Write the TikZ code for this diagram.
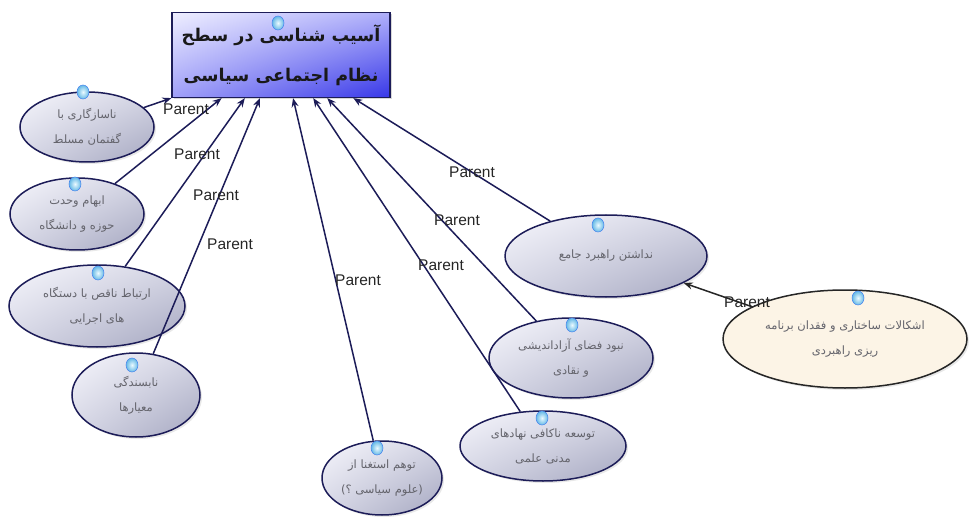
\documentclass[tikz,border=0pt]{standalone}
\usepackage{fontspec}
\setmainfont{Liberation Sans}
\newfontfamily\fa[Script=Arabic]{DejaVu Sans}
\TeXXeTstate=1
\usetikzlibrary{shapes.geometric,arrows.meta,shadows,shadings,calc}
\definecolor{navy}{RGB}{28,28,88}
\definecolor{etext}{RGB}{100,100,108}
\definecolor{elite}{RGB}{246,246,252}
\definecolor{emid}{RGB}{212,213,228}
\definecolor{edark}{RGB}{165,167,192}
\definecolor{beige}{RGB}{252,244,230}
\definecolor{markin}{RGB}{235,250,255}
\definecolor{markout}{RGB}{100,185,230}
\newcommand{\rl}[1]{\beginR #1\endR}
\tikzset{
  concept/.style={ellipse, draw=navy, line width=1.5pt, inner sep=0pt,
    upper left=elite, upper right=emid, lower left=emid, lower right=edark,
    drop shadow={opacity=0.18, shadow xshift=2pt, shadow yshift=-2pt},
    font=\fa\fontsize{11.5}{25}\selectfont, text=etext, align=center},
  beigeconcept/.style={ellipse, draw=black!85, line width=1.5pt, inner sep=0pt,
    fill=beige, drop shadow={opacity=0.18, shadow xshift=2pt, shadow yshift=-2pt},
    font=\fa\fontsize{11.5}{25}\selectfont, text=etext, align=center},
  rootbox/.style={rectangle, draw=navy, line width=1.2pt, inner sep=0pt,
    upper left={rgb,255:red,238;green,238;blue,255},
    upper right={rgb,255:red,175;green,175;blue,250},
    lower left={rgb,255:red,160;green,160;blue,248},
    lower right={rgb,255:red,55;green,55;blue,232},
    drop shadow={opacity=0.3, shadow xshift=2pt, shadow yshift=-2pt},
    font=\fa\bfseries\fontsize{17.5}{40}\selectfont, text=black!90, align=center},
  marker/.style={ellipse, minimum width=12pt, minimum height=14pt, inner sep=0pt,
    inner color=markin, outer color=markout, draw=markout!70!blue, line width=0.5pt},
  edge/.style={draw=navy, line width=1.5pt, -{Stealth[length=9pt,width=7pt]}},
  lbl/.style={font=\fontsize{15.5}{15.5}\selectfont, text=black!85, inner sep=0pt}
}
\begin{document}
\begin{tikzpicture}[x=1pt,y=-1pt]
\useasboundingbox (0,0) rectangle (974,521);
\fill[white] (0,0) rectangle (974,521);

\node[rootbox, minimum width=218pt, minimum height=85pt] (root) at (281,55)
  {\rl{آسیب شناسی در سطح}\\\rl{نظام اجتماعی سیاسی}};

\node[concept, minimum width=134pt, minimum height=70pt] (e1) at (87,127)
  {\rl{ناسازگاری با}\\\rl{گفتمان مسلط}};
\node[concept, minimum width=134pt, minimum height=72pt] (e2) at (77,214)
  {\rl{ابهام وحدت}\\\rl{حوزه و دانشگاه}};
\node[concept, minimum width=176pt, minimum height=82pt] (e3) at (97,306)
  {\rl{ارتباط ناقص با دستگاه}\\\rl{های اجرایی}};
\node[concept, minimum width=128pt, minimum height=84pt] (e4) at (136,395)
  {\rl{نابسندگی}\\\rl{معیارها}};
\node[concept, minimum width=120pt, minimum height=74pt] (e5) at (382,478)
  {\rl{توهم استغنا از}\\\rl{(علوم سیاسی ؟)}};
\node[concept, minimum width=166pt, minimum height=70pt] (e6) at (543,446)
  {\rl{توسعه ناکافی نهادهای}\\\rl{مدنی علمی}};
\node[concept, minimum width=164pt, minimum height=80pt] (e7) at (571,358)
  {\rl{نبود فضای آزاداندیشی}\\\rl{و نقادی}};
\node[concept, minimum width=202pt, minimum height=82pt] (e8) at (606,256)
  {\rl{نداشتن راهبرد جامع}};
\node[beigeconcept, minimum width=244pt, minimum height=98pt] (e9) at (845,339)
  {\rl{اشکالات ساختاری و فقدان برنامه}\\\rl{ریزی راهبردی}};

\node[marker] (m0) at (278,23) {};
\node[marker] (m1) at (83,92) {};
\node[marker] (m2) at (75,184) {};
\node[marker] (m3) at (98,273) {};
\node[marker] (m4) at (132,365) {};
\node[marker] (m5) at (377,448) {};
\node[marker] (m6) at (542,418) {};
\node[marker] (m7) at (572,325) {};
\node[marker] (m8) at (598,225) {};
\node[marker] (m9) at (858,298) {};

\coordinate (t2) at ($(root.south west)!0.229!(root.south east)$);
\coordinate (t3) at ($(root.south west)!0.335!(root.south east)$);
\coordinate (t4) at ($(root.south west)!0.404!(root.south east)$);
\coordinate (t5) at ($(root.south west)!0.555!(root.south east)$);
\coordinate (t6) at ($(root.south west)!0.647!(root.south east)$);
\coordinate (t7) at ($(root.south west)!0.711!(root.south east)$);
\coordinate (t8) at ($(root.south west)!0.830!(root.south east)$);

\draw[edge] (e1) -- (root.south west);
\draw[edge] (e2) -- (t2);
\draw[edge] (e3) -- (t3);
\draw[edge] (e4) -- (t4);
\draw[edge] (e5) -- (t5);
\draw[edge] (e6) -- (t6);
\draw[edge] (e7) -- (t7);
\draw[edge] (e8) -- (t8);
\draw[edge, draw=black!85] (e9) -- (e8);

\node[lbl] (l1) at (186,109) {Parent};
\node[lbl] (l2) at (197,154) {Parent};
\node[lbl] (l3) at (216,195) {Parent};
\node[lbl] (l4) at (230,244) {Parent};
\node[lbl] (l5) at (358,280) {Parent};
\node[lbl] (l6) at (441,265) {Parent};
\node[lbl] (l7) at (457,220) {Parent};
\node[lbl] (l8) at (472,172) {Parent};
\node[lbl] (l9) at (747,302) {Parent};
\end{tikzpicture}
\end{document}
